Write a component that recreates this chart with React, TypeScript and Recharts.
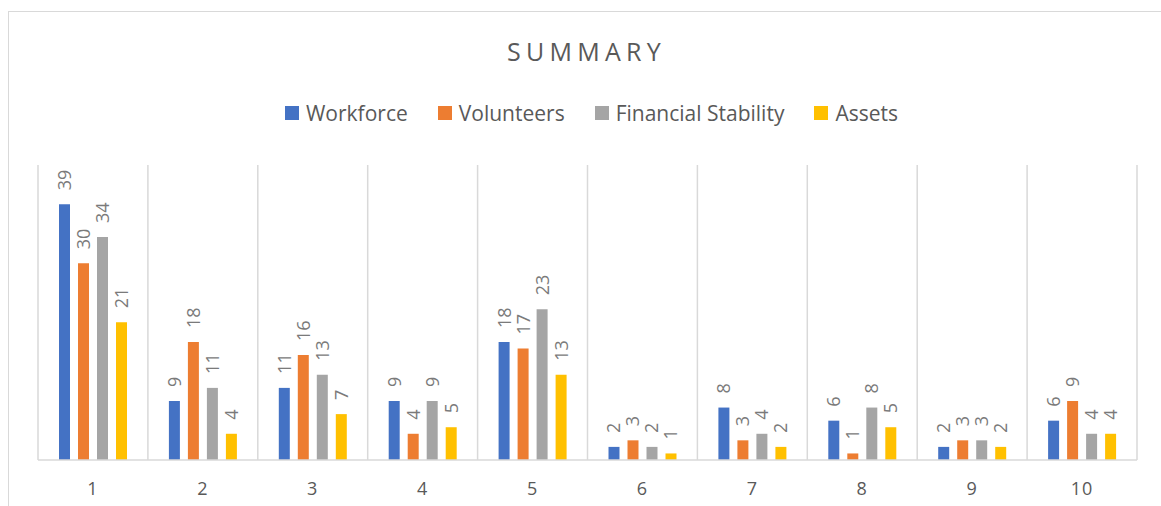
import { BarChart, Bar, XAxis, YAxis, CartesianGrid, Legend, LabelList } from 'recharts';

const categories = ['1', '2', '3', '4', '5', '6', '7', '8', '9', '10'];
const workforce = [39, 9, 11, 9, 18, 2, 8, 6, 2, 6];
const volunteers = [30, 18, 16, 4, 17, 3, 3, 1, 3, 9];
const financialStability = [34, 11, 13, 9, 23, 2, 4, 8, 3, 4];
const assets = [21, 4, 7, 5, 13, 1, 2, 5, 2, 4];

const seriesNames = ['Workforce', 'Volunteers', 'Financial Stability', 'Assets'];
const seriesColors = ['#4472C4', '#ED7D31', '#A5A5A5', '#FFC000'];

const data = categories.map((name, i) => ({
  name,
  workforce: workforce[i],
  volunteers: volunteers[i],
  financial: financialStability[i],
  assets: assets[i],
}));

const FONT = '"Open Sans", sans-serif';
const TEXT = '#595959';

const RotatedLabel = (props: any) => {
  const { x, y, width, value } = props;
  const cx = x + width / 2 + 6.5;
  const ty = y - 14;
  return (
    <text
      x={cx}
      y={ty}
      transform={`rotate(-90, ${cx}, ${ty})`}
      textAnchor="start"
      fontFamily={FONT}
      fontSize={18}
      fill="#7a7a7a"
    >
      {value}
    </text>
  );
};

const CategoryTick = (props: any) => {
  const { x, y, payload } = props;
  return (
    <text x={x} y={y + 35} textAnchor="middle" fontFamily={FONT} fontSize={18} fill={TEXT} letterSpacing={1}>
      {payload.value}
    </text>
  );
};

const LegendContent = () => (
  <div style={{ display: 'flex', justifyContent: 'center', paddingLeft: 22, fontFamily: FONT, fontSize: 21, color: TEXT }}>
    {seriesNames.map((n, i) => (
      <div key={n} style={{ display: 'flex', alignItems: 'center', marginRight: i < 3 ? 30 : 0 }}>
        <span style={{ display: 'inline-block', width: 14, height: 14, background: seriesColors[i], marginRight: 7 }} />
        <span>{n}</span>
      </div>
    ))}
  </div>
);

export default function App() {
  return (
    <div style={{ position: 'fixed', left: 0, top: 0, width: 1161, height: 506, overflow: 'hidden', background: '#fff' }}>
      <div
        style={{
          position: 'absolute',
          left: 8,
          top: 11,
          width: 1200,
          height: 600,
          borderLeft: '1.5px solid #d9d9d9',
          borderTop: '1.5px solid #d9d9d9',
        }}
      />
      <div
        style={{
          position: 'absolute',
          left: 0,
          top: 34,
          width: 1161,
          paddingLeft: 12,
          boxSizing: 'border-box',
          textAlign: 'center',
          fontFamily: FONT,
          fontSize: 25,
          letterSpacing: 5.3,
          color: TEXT,
        }}
      >
        SUMMARY
      </div>
      <BarChart
        width={1161}
        height={506}
        data={data}
        margin={{ top: 165, right: 24, left: 38, bottom: 16 }}
        barGap={8}
        barSize={11}
        style={{ position: 'absolute', left: 0, top: 0 }}
      >
        <CartesianGrid
          horizontal={false}
          stroke="#d9d9d9"
          strokeWidth={1.5}
          verticalCoordinatesGenerator={({ offset }: any) =>
            Array.from({ length: categories.length + 1 }, (_, i) => offset.left + (i * offset.width) / categories.length)
          }
        />
        <XAxis
          dataKey="name"
          height={30}
          tickLine={false}
          tickSize={0}
          tickMargin={0}
          axisLine={{ stroke: '#d9d9d9', strokeWidth: 1.5 }}
          tick={<CategoryTick />}
          interval={0}
        />
        <YAxis hide domain={[0, 45]} />
        <Legend
          layout="horizontal"
          verticalAlign="middle"
          align="center"
          wrapperStyle={{ top: 99, left: 0, width: 1161 }}
          content={<LegendContent />}
        />
        <Bar dataKey="workforce" name={seriesNames[0]} fill={seriesColors[0]} isAnimationActive={false}>
          <LabelList dataKey="workforce" content={<RotatedLabel />} />
        </Bar>
        <Bar dataKey="volunteers" name={seriesNames[1]} fill={seriesColors[1]} isAnimationActive={false}>
          <LabelList dataKey="volunteers" content={<RotatedLabel />} />
        </Bar>
        <Bar dataKey="financial" name={seriesNames[2]} fill={seriesColors[2]} isAnimationActive={false}>
          <LabelList dataKey="financial" content={<RotatedLabel />} />
        </Bar>
        <Bar dataKey="assets" name={seriesNames[3]} fill={seriesColors[3]} isAnimationActive={false}>
          <LabelList dataKey="assets" content={<RotatedLabel />} />
        </Bar>
      </BarChart>
    </div>
  );
}
